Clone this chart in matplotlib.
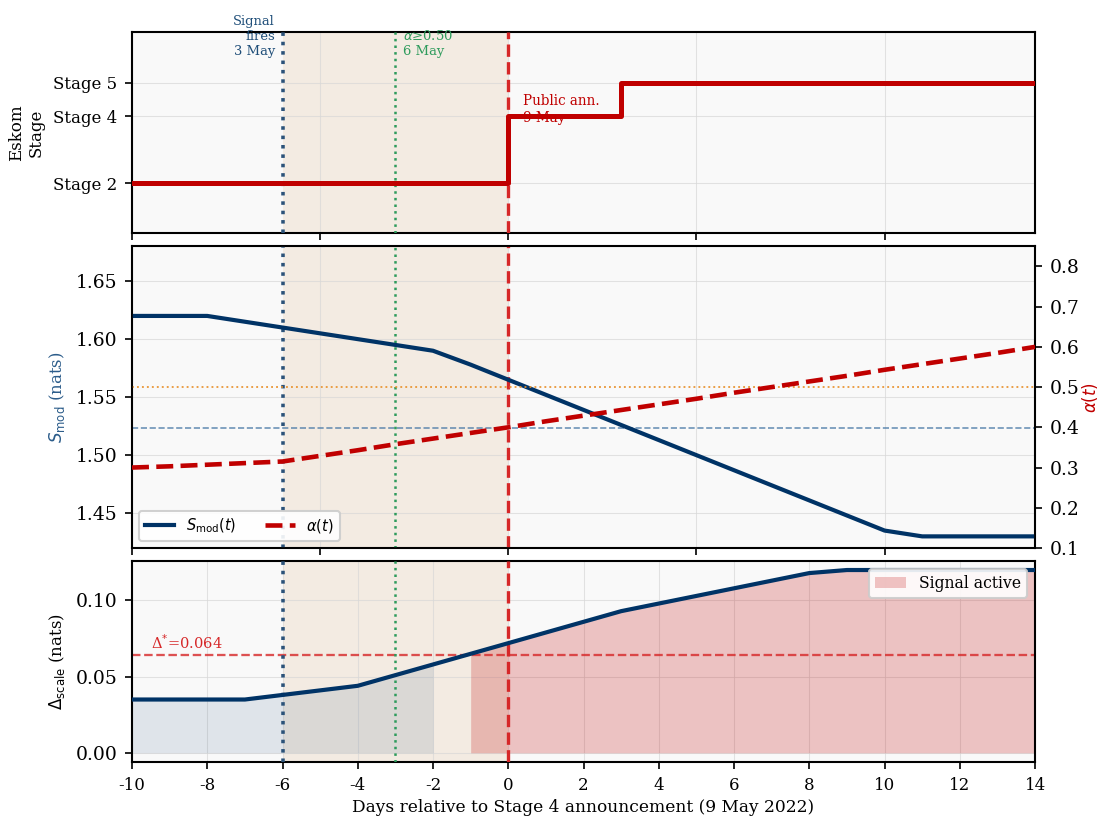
import numpy as np
import matplotlib
matplotlib.use("Agg")
import matplotlib.pyplot as plt
from matplotlib.lines import Line2D
from matplotlib.patches import Patch

plt.rcParams['font.family'] = 'serif'
plt.rcParams['axes.unicode_minus'] = False

# days relative to the Stage 4 announcement (9 May 2022)
days = np.arange(-10, 15)

# modular entropy S_mod(t), nats
s_mod = [1.620, 1.620, 1.620, 1.615, 1.610, 1.605, 1.600, 1.595, 1.590, 1.578,
         1.565, 1.552, 1.539, 1.526, 1.513, 1.500, 1.487, 1.474, 1.461, 1.448,
         1.435, 1.430, 1.430, 1.430, 1.430]

# mixing weight alpha(t)
alpha = [0.300, 0.303, 0.307, 0.311, 0.315, 0.329, 0.343, 0.358, 0.372, 0.386,
         0.400, 0.415, 0.429, 0.443, 0.457, 0.471, 0.486, 0.500, 0.514, 0.528,
         0.543, 0.557, 0.571, 0.585, 0.600]

# scale gap Delta_scale(t), nats
delta_scale = [0.035, 0.035, 0.035, 0.035, 0.038, 0.041, 0.044, 0.051, 0.058, 0.065,
               0.072, 0.079, 0.086, 0.093, 0.098, 0.103, 0.108, 0.113, 0.118, 0.120,
               0.120, 0.120, 0.120, 0.120, 0.120]

# Eskom load-shedding stage (step changes)
stage_days = [-10, 0, 3, 14]
stage_levels = [2, 4, 5, 5]
stage_ticks = [2, 4, 5]
stage_labels = ['Stage 2', 'Stage 4', 'Stage 5']

delta_star = 0.064
alpha_thr = 0.50
s_ref = 1.523
signal_day = -6
alpha_day = -3
announce_day = 0

NAVY = '#003366'
RED = '#c00000'
BG = '#f9f9f9'

fig, axes = plt.subplots(3, 1, figsize=(7.327, 5.44), dpi=150,
                         gridspec_kw={'height_ratios': [2, 3, 2]})
fig.subplots_adjust(left=0.1201, right=0.9418, top=0.9604, bottom=0.0662, hspace=0.055)
ax_top, ax_mid, ax_bot = axes

for ax in axes:
    ax.set_facecolor(BG)
    ax.axvspan(signal_day, announce_day, color='#d9a36a', alpha=0.16, lw=0, zorder=0)
    ax.axvline(signal_day, color='#2b5279', ls=':', lw=1.7, zorder=3)
    ax.axvline(alpha_day, color='#2e9b5c', ls=':', lw=1.2, zorder=3)
    ax.axvline(announce_day, color='#d62728', ls='--', lw=1.6, zorder=3)
    ax.grid(True, color='#d8d8d8', lw=0.5, alpha=0.7)
    ax.set_axisbelow(True)
    ax.set_xlim(-10, 14)
    for sp in ax.spines.values():
        sp.set_linewidth(1.0)

# top: Eskom stage
ax_top.step(stage_days, stage_levels, where='post', color=RED, lw=2.4, zorder=4)
ax_top.set_ylim(0.5, 6.5)
ax_top.set_yticks(stage_ticks)
ax_top.set_yticklabels(stage_labels, fontsize=8)
ax_top.set_ylabel('Eskom\nStage', fontsize=8)
ax_top.set_xticks([-10, -5, 0, 5, 10])
ax_top.tick_params(axis='x', labelbottom=False)
ax_top.text(signal_day - 0.2, 5.72, 'Signal\nfires\n3 May', color='#1f4e79',
            fontsize=6.3, ha='right', va='bottom', clip_on=False)
ax_top.text(alpha_day + 0.2, 5.72, r'$\alpha$≥0.50' + '\n6 May', color='#2e9b5c',
            fontsize=6.3, ha='left', va='bottom', clip_on=False)
ax_top.text(announce_day + 0.4, 4.2, 'Public ann.\n9 May', color=RED,
            fontsize=6.5, ha='left', va='center', zorder=2)

# middle: S_mod and alpha on twin axes
ax_mid.plot(days, s_mod, color=NAVY, lw=2, zorder=4)
ax_mid.axhline(s_ref, color='#4a7aa7', ls='--', lw=0.8, alpha=0.8, zorder=2)
ax_mid.set_ylim(1.42, 1.68)
ax_mid.set_yticks([1.45, 1.50, 1.55, 1.60, 1.65])
ax_mid.set_ylabel(r'$S_{\mathrm{mod}}$ (nats)', color='#2b5c8a', fontsize=8)
ax_mid.tick_params(axis='y', labelsize=9)
ax_mid.set_xticks([-10, -5, 0, 5, 10])
ax_mid.tick_params(axis='x', labelbottom=False)

ax_alpha = ax_mid.twinx()
ax_alpha.plot(days, alpha, color=RED, ls='--', lw=2.2, zorder=4)
ax_alpha.axhline(alpha_thr, color='#e8902a', ls=':', lw=0.9, alpha=0.9)
ax_alpha.set_ylim(0.1, 0.85)
ax_alpha.set_ylabel(r'$\alpha(t)$', color=RED, fontsize=8, labelpad=0)
ax_alpha.tick_params(axis='y', labelsize=9)
ax_alpha.set_xlim(-10, 14)

handles = [Line2D([], [], color=NAVY, lw=2),
           Line2D([], [], color=RED, ls='--', lw=2.2)]
ax_alpha.legend(handles, [r'$S_{\mathrm{mod}}(t)$', r'$\alpha(t)$'], loc='lower left',
                ncol=2, fontsize=7, framealpha=0.9)

# bottom: scale gap with signal shading
d = np.array(delta_scale)
ax_bot.plot(days, d, color=NAVY, lw=2, zorder=4)
ax_bot.fill_between(days, 0, d, where=d <= delta_star, color=NAVY, alpha=0.1, lw=0, zorder=1)
ax_bot.fill_between(days, 0, d, where=d > delta_star, color=RED, alpha=0.22, lw=0, zorder=1)
ax_bot.axhline(delta_star, color='#d62728', ls='--', lw=1.1, alpha=0.8, zorder=2)
ax_bot.text(-9.5, delta_star + 0.004, 'Δ$^{*}$=0.064', color='#d62728', fontsize=7)
ax_bot.set_xticks(np.arange(-10, 15, 2))
ax_bot.tick_params(axis='x', labelsize=8)
ax_bot.tick_params(axis='y', labelsize=9)
ax_bot.set_ylabel(r'$\Delta_{\mathrm{scale}}$ (nats)', fontsize=8)
ax_bot.set_xlabel('Days relative to Stage 4 announcement (9 May 2022)', fontsize=8.2,
                  labelpad=2.5)
ax_bot.legend([Patch(color=RED, alpha=0.22, lw=0)], ['Signal active'],
              loc='upper right', fontsize=7.5, framealpha=0.9)

fig.savefig('out.png', dpi=150)
